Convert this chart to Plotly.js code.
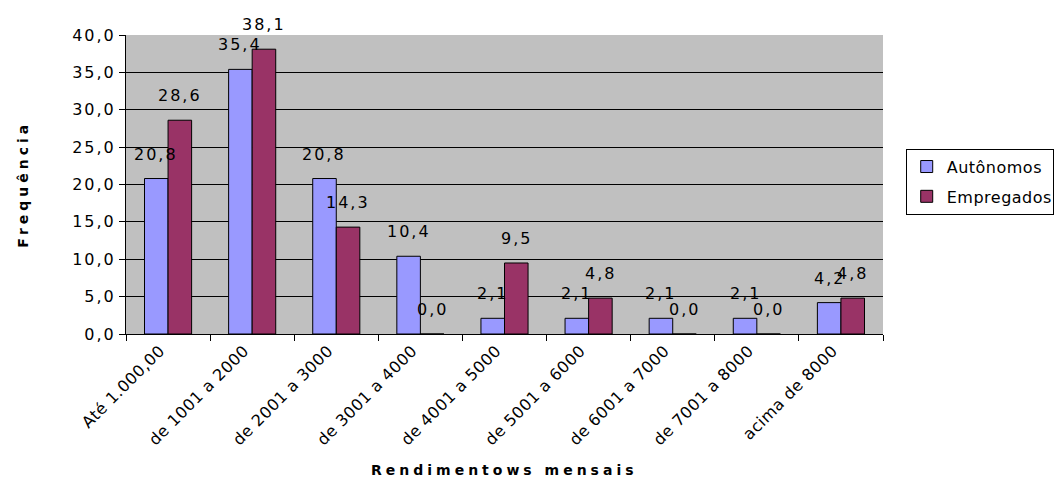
<!DOCTYPE html>
<html>
<head>
<meta charset="utf-8">
<script src="https://cdn.plot.ly/plotly-3.0.1.min.js"></script>
<style>
html,body{margin:0;padding:0;background:#fff;}
#chart{width:1058px;height:497px;}
#chart svg text{letter-spacing:2px;}
#chart svg g.xtick text{letter-spacing:0.5px;}
#chart svg g.legend text{letter-spacing:0.5px;}
</style>
</head>
<body>
<div id="chart"></div>
<script>
const categories = ["Até 1.000,00", "de 1001 a 2000", "de 2001 a 3000", "de 3001 a 4000", "de 4001 a 5000", "de 5001 a 6000", "de 6001 a 7000", "de 7001 a 8000", "acima de 8000"];
const autonomos = [20.8, 35.4, 20.8, 10.4, 2.1, 2.1, 2.1, 2.1, 4.2];
const empregados = [28.6, 38.1, 14.3, 0.0, 9.5, 4.8, 0.0, 0.0, 4.8];
const seriesNames = ["Autônomos", "Empregados"];
const yTicks = [0, 5, 10, 15, 20, 25, 30, 35, 40];
const xTitle = "Rendimentows mensais";
const yTitle = "Frequência";

const font = "DejaVu Sans, sans-serif";
const fmt = v => v.toFixed(1).replace('.', ',');

const traces = [
  {type: 'bar', name: seriesNames[0], x: categories, y: autonomos, legendgroup: 'a',
   marker: {color: '#9999FF', line: {color: '#000', width: 1}}},
  {type: 'bar', name: seriesNames[1], x: categories, y: empregados, legendgroup: 'b',
   marker: {color: '#993366', line: {color: '#000', width: 1}}}
];

const annotations = [];
[[autonomos, -11.8], [empregados, 11.8]].forEach(([arr, sh]) => {
  arr.forEach((v, i) => {
    annotations.push({x: categories[i], y: v, xref: 'x', yref: 'y', text: fmt(v),
      showarrow: false, xshift: sh, yshift: 13, yanchor: 'bottom', xanchor: 'center',
      font: {family: font, size: 16, color: '#000'}});
  });
});
annotations.push({x: 0.5, y: -0.455, xref: 'paper', yref: 'paper', text: xTitle, showarrow: false,
  xanchor: 'center', yanchor: 'middle', font: {family: font, size: 14, color: '#000', weight: 'bold'}});
annotations.push({x: -0.137, y: 0.5, xref: 'paper', yref: 'paper', text: yTitle, showarrow: false, textangle: -90,
  xanchor: 'center', yanchor: 'middle', font: {family: font, size: 14, color: '#000', weight: 'bold'}});

const layout = {
  width: 1058, height: 497,
  margin: {l: 126, r: 175, t: 35, b: 163, autoexpand: false},
  paper_bgcolor: '#fff', plot_bgcolor: '#C0C0C0',
  separators: ',.',
  barmode: 'group', bargap: 0.44, bargroupgap: 0,
  font: {family: font, size: 16, color: '#000'},
  xaxis: {
    type: 'category', tickson: 'boundaries', ticks: 'outside', ticklen: 6, tickcolor: '#000',
    showline: true, linecolor: '#000', linewidth: 1, showgrid: false, tickangle: -45,
    ticklabelshift: -8,
    tickfont: {family: font, size: 16, color: '#000'}
  },
  yaxis: {
    range: [0, 40], tickvals: yTicks, tickformat: '.1f', ticks: 'outside', ticklen: 6, tickcolor: '#000',
    showline: true, linecolor: '#000', linewidth: 1, showgrid: true, gridcolor: '#000', gridwidth: 1,
    zeroline: false, tickfont: {family: font, size: 16, color: '#000'}
  },
  legend: {x: 1.03, y: 0.62, xanchor: 'left', yanchor: 'top', bgcolor: '#fff', tracegroupgap: 6,
    bordercolor: '#000', borderwidth: 1, itemwidth: 30, font: {family: font, size: 16, color: '#000'}},
  annotations: annotations,
  showlegend: true
};

Plotly.newPlot('chart', traces, layout, {displayModeBar: false, staticPlot: true}).then(gd => {
  const anns = gd.querySelectorAll('g.annotation');
  anns.forEach(a => {
    const t = a.querySelector('text');
    if (t && (t.textContent === xTitle || t.textContent === yTitle)) t.style.letterSpacing = '4px';
  });
});
</script>
</body>
</html>
